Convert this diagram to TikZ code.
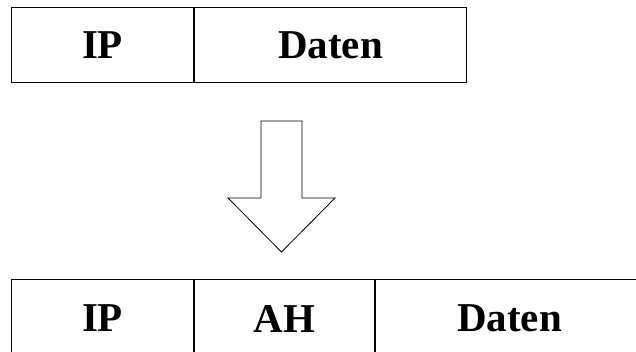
\documentclass[tikz,border=0pt]{standalone}
\usepackage{fontspec}
\setmainfont{Liberation Serif}
\tikzset{
	cell/.style={draw, line width=1pt, rectangle, anchor=north west, inner sep=0pt,
		font=\bfseries\fontsize{41}{41}\selectfont},
}
\begin{document}
\begin{tikzpicture}[x=1pt, y=-1pt]
	\useasboundingbox (0,0) rectangle (636,352);
	
	%%% Paket vorher
	\node[cell, minimum width=182pt, minimum height=75pt] (ip) at (11,7) {IP};
	\node[cell, minimum width=272pt, minimum height=75pt] (daten) at (ip.north east) {Daten};
	
	%%% Pfeil
	\draw[line width=0.8pt] (261,121) -- (302,121) -- (302,198) -- (335,198) -- (281.5,252)
		-- (228,198) -- (261,198) -- cycle;
	
	%%% Paket nachher
	\node[cell, minimum width=182pt, minimum height=78pt] (ipneu) at (11,279) {IP};
	\node[cell, minimum width=180pt, minimum height=78pt] (ah) at (ipneu.north east) {AH};
	\node[cell, minimum width=268pt, minimum height=78pt] (datenneu) at (ah.north east) {Daten};
\end{tikzpicture}
\end{document}
